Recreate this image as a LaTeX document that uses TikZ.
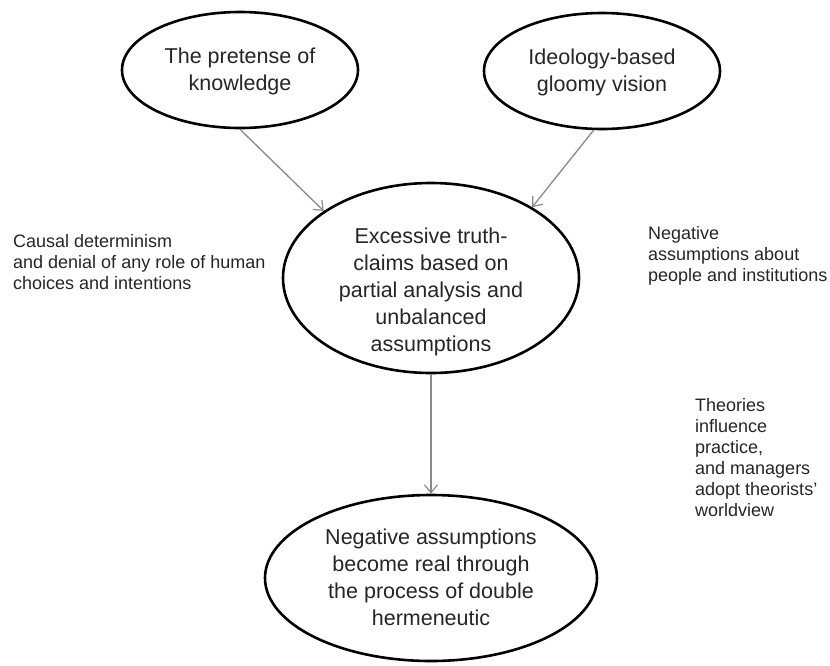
\documentclass[tikz,border=0pt]{standalone}
\usepackage{fontspec}
\setmainfont{Liberation Sans}
\usetikzlibrary{shapes.geometric,arrows.meta}
\definecolor{txt}{HTML}{262626}
\definecolor{link}{HTML}{8A8A8A}
\tikzset{
  bubble/.style={ellipse, draw=black, line width=2.6pt, inner sep=0pt},
  bubbletext/.style={align=center, inner sep=0pt, text=txt,
    font=\fontsize{21.5}{27}\selectfont},
  note/.style={align=left, anchor=north west, inner sep=0pt, text=txt,
    font=\fontsize{18}{21}\selectfont},
  flow/.style={draw=link, line width=1.3pt,
    -{Straight Barb[length=8pt,width=13pt,line width=1.2pt]}}
}
\begin{document}
\begin{tikzpicture}[x=1pt,y=-1pt]
\useasboundingbox (0,0) rectangle (830,665);
\fill[white] (0,0) rectangle (830,665);

% the four ellipses
\node[bubble, minimum width=236pt, minimum height=116pt] (pretense) at (240,70) {};
\node[bubble, minimum width=236pt, minimum height=116pt] (ideology) at (602,71) {};
\node[bubble, minimum width=296pt, minimum height=190pt] (claims) at (431,278) {};
\node[bubble, minimum width=332pt, minimum height=166pt] (real) at (431,578) {};

% their texts
\node[bubbletext] (pretensetext) at (240,71) {The pretense of\\knowledge};
\node[bubbletext] (ideologytext) at (602,72) {Ideology-based\\gloomy vision};
\node[bubbletext] (claimstext) at (431,292)
  {Excessive truth-\\claims based on\\partial analysis and\\unbalanced\\assumptions};
\node[bubbletext] (realtext) at (431,577)
  {Negative assumptions\\become real through\\the process of double\\hermeneutic};

% side notes
\node[note] (causal) at (13,234)
  {Causal determinism\\and denial of any role of human\\choices and intentions};
\node[note] (negative) at (648,226)
  {Negative\\assumptions about\\people and institutions};
\node[note] (theories) at (695,398)
  {Theories\\influence\\practice,\\and managers\\adopt theorists'\\worldview};

% connectors
\draw[flow] (pretense.south) -- (claims.148);
\draw[flow] (ideology.262) -- (claims.35);
\draw[flow] (claims.south) -- (real.north);
\end{tikzpicture}
\end{document}
